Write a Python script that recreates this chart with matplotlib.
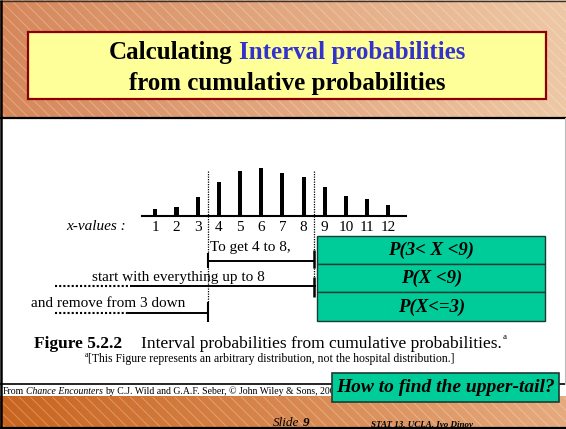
import matplotlib
matplotlib.use("Agg")
import matplotlib.pyplot as plt
from matplotlib.patches import Rectangle
from matplotlib import transforms
import matplotlib.colors as mcolors
import numpy as np

# ---------------- data ----------------
x_values = [1, 2, 3, 4, 5, 6, 7, 8, 9, 10, 11, 12]
probabilities = [0.020, 0.027, 0.059, 0.106, 0.141, 0.150, 0.135, 0.122, 0.090, 0.062, 0.053, 0.034]
tick_labels = [str(v) for v in x_values]
lower_cut = 3.5   # boundary between 3 and 4
upper_cut = 8.5   # boundary between 8 and 9

title_black = "Calculating"
title_blue = "Interval probabilities"
title_line1 = "Calculating Interval probabilities"
title_line2 = "from cumulative probabilities"
axis_label = "x-values :"
bracket_texts = ["To get 4 to 8,", "start with everything up to 8", "and remove from 3 down"]
box_labels = ["P(3< X <9)", "P(X <9)", "P(X<=3)"]
caption_bold = "Figure 5.2.2"
caption_text = "Interval probabilities from cumulative probabilities."
footnote_text = "[This Figure represents an arbitrary distribution, not the hospital distribution.]"
footer_parts = ["From", "Chance Encounters", "by C.J. Wild and G.A.F. Seber, \u00a9 John Wiley & Sons, 2000."]
question = "How to find the upper-tail?"
slide_label = "Slide"
slide_num = "9"
course_label = "STAT 13, UCLA, Ivo Dinov"

# ---------------- setup ----------------
W, H, DPI = 566, 429, 100
SERIF = "Liberation Serif"
plt.rcParams["hatch.linewidth"] = 0.7

fig = plt.figure(figsize=(W / DPI, H / DPI), dpi=DPI, facecolor="white")
ax = fig.add_axes([0, 0, 1, 1], zorder=0)
ax.set_xlim(0, W)
ax.set_ylim(H, 0)
ax.axis("off")
ax.set_autoscale_on(False)
r = fig.canvas.get_renderer()


def grad(c0, c1, n=256):
    a = np.array(mcolors.to_rgb(c0))
    b = np.array(mcolors.to_rgb(c1))
    t = np.linspace(0, 1, n)[None, :, None]
    img = a + (b - a) * t
    return np.repeat(img, 4, axis=0)


# header band
ax.imshow(grad("#D6875A", "#EEC8A5"), extent=(0, W, 117, 0), aspect="auto",
          interpolation="bilinear", zorder=0)
ax.add_patch(Rectangle((0, 0), W, 117, fill=False, hatch="\\\\\\",
                       edgecolor=(1, 1, 1, 0.28), lw=0, zorder=1))
# bottom band
ax.imshow(grad("#C9641E", "#E6AA7E"), extent=(0, W, 427, 396.5), aspect="auto",
          interpolation="bilinear", zorder=0)
ax.add_patch(Rectangle((0, 396.5), W, 30.5, fill=False, hatch="\\\\\\",
                       edgecolor=(1, 1, 1, 0.28), lw=0, zorder=1))
ax.set_xlim(0, W)
ax.set_ylim(H, 0)

# frame lines
ax.plot([0, W], [118, 118], color="black", lw=1.6, zorder=5, solid_capstyle="butt")
ax.plot([0, W], [384.2, 384.2], color="black", lw=1.2, zorder=5, solid_capstyle="butt")
ax.plot([0, W], [428, 428], color="black", lw=1.6, zorder=8, solid_capstyle="butt")
ax.plot([0, W], [0.7, 0.7], color="#333333", lw=1.0, zorder=8, solid_capstyle="butt")
ax.plot([1.2, 1.2], [0, H], color="black", lw=1.8, zorder=8, solid_capstyle="butt")
ax.plot([564.5, 564.5], [118, 384], color="#BBBBBB", lw=0.8, zorder=5)

# title box
ax.add_patch(Rectangle((28.3, 31.7), 517.4, 67.3, facecolor="#FFFF99",
                       edgecolor="#8B0000", lw=1.6, zorder=3))
tfull = ax.text(0, 0, title_line1, fontsize=18, weight="bold", family=SERIF, alpha=0)
wfull = tfull.get_window_extent(r).width
tfull.remove()
x0 = 287 - wfull / 2
ax.text(x0, 59.3, title_black, fontsize=18, weight="bold", family=SERIF,
        color="black", ha="left", va="baseline", zorder=4)
ax.text(x0 + wfull, 59.3, title_blue, fontsize=18, weight="bold", family=SERIF,
        color="#3333CC", ha="right", va="baseline", zorder=4)
ax.text(287, 90, title_line2, fontsize=18, weight="bold", family=SERIF,
        color="black", ha="center", va="baseline", zorder=4)

# ---------------- bar chart ----------------
bx0, bx1, by0, by1 = 142, 405.7, 160, 215.7
ax_bar = fig.add_axes([bx0 / W, 1 - by1 / H, (bx1 - bx0) / W, (by1 - by0) / H], zorder=2)
ax_bar.patch.set_alpha(0)
ax_bar.bar(x_values, probabilities, width=0.19, color="black")
ax_bar.set_xlim(0.372, 12.82)
ax_bar.set_ylim(0, 0.175)
for s in ["top", "left", "right"]:
    ax_bar.spines[s].set_visible(False)
ax_bar.spines["bottom"].set_linewidth(1.5)
ax_bar.set_yticks([])
ax_bar.set_xticks(x_values, tick_labels)
ax_bar.tick_params(axis="x", length=0, pad=4, labelsize=11)
for lab in ax_bar.get_xticklabels():
    lab.set_family(SERIF)

ax.text(126, 227, axis_label, fontsize=11, style="italic", family=SERIF,
        ha="right", va="center")

tv = transforms.blended_transform_factory(ax_bar.transData, ax.transData)
dot = (0, (1, 1))
# vertical cut lines
ax.plot([lower_cut, lower_cut], [171, 253], transform=tv, color="black", lw=0.9, ls=dot, zorder=2)
ax.plot([lower_cut, lower_cut], [268, 302], transform=tv, color="black", lw=0.9, ls=dot, zorder=2)
ax.plot([upper_cut, upper_cut], [171, 250], transform=tv, color="black", lw=0.9, ls=dot, zorder=2)
ax.plot([upper_cut, upper_cut], [268, 278], transform=tv, color="black", lw=0.9, ls=dot, zorder=2)

# bracket 1
ax.plot([lower_cut, upper_cut], [260.5, 260.5], transform=tv, color="black", lw=1.4, zorder=3,
        solid_capstyle="butt")
ax.plot([lower_cut, lower_cut], [253, 268], transform=tv, color="black", lw=1.5, zorder=3,
        solid_capstyle="butt")
ax.plot([upper_cut, upper_cut], [250, 268], transform=tv, color="black", lw=1.8, zorder=3,
        solid_capstyle="butt")
ax.text(209.5, 247.5, bracket_texts[0], fontsize=11, family=SERIF, ha="left", va="center")

# bracket 2
ax.plot([131, 316], [286, 286], color="black", lw=1.4, zorder=3, solid_capstyle="butt")
ax.plot([55, 131], [286, 286], color="black", lw=1.5, ls=dot, zorder=3)
ax.plot([upper_cut, upper_cut], [277, 297], transform=tv, color="black", lw=1.8, zorder=3,
        solid_capstyle="butt")
ax.text(92, 277.5, bracket_texts[1], fontsize=11, family=SERIF, ha="left", va="center")

# bracket 3
ax.plot([128, 208], [312.7, 312.7], color="black", lw=1.4, zorder=3, solid_capstyle="butt")
ax.plot([55, 128], [312.7, 312.7], color="black", lw=1.5, ls=dot, zorder=3)
ax.plot([lower_cut, lower_cut], [302, 322], transform=tv, color="black", lw=1.5, zorder=3,
        solid_capstyle="butt")
ax.text(31, 303.5, bracket_texts[2], fontsize=11, family=SERIF, ha="left", va="center")

# green probability boxes
gx0, gx1 = 317.3, 545
gys = [235.7, 264, 292.3, 320.7]
for i, lab in enumerate(box_labels):
    ax.add_patch(Rectangle((gx0, gys[i]), gx1 - gx0, gys[i + 1] - gys[i],
                           facecolor="#00CC99", edgecolor="#1E3B33", lw=1.0, zorder=3))
    ax.text((gx0 + gx1) / 2, (gys[i] + gys[i + 1]) / 2 + 0.5, lab, fontsize=13.5,
            weight="bold", style="italic", family=SERIF, ha="center", va="center", zorder=4)

# caption
ax.text(34, 347.5, caption_bold, fontsize=12.5, weight="bold", family=SERIF,
        ha="left", va="baseline")
tc = ax.text(140.7, 347.5, caption_text, fontsize=12.5, family=SERIF,
             ha="left", va="baseline")
cend = tc.get_window_extent(r).x1
ax.text(cend + 1.5, 339, "a", fontsize=6.5, family=SERIF, ha="left", va="baseline")
ax.text(85, 357, "a", fontsize=5.5, family=SERIF, ha="left", va="baseline")
ax.text(88.5, 361.8, footnote_text, fontsize=8.5, family=SERIF, ha="left", va="baseline")

# footer
fx = 2.5
fy = 394.5
sp = 7 * 0.25 * DPI / 72
t = ax.text(fx, fy, footer_parts[0], fontsize=7, family=SERIF, ha="left", va="baseline", zorder=4)
fx = t.get_window_extent(r).x1 + sp
t = ax.text(fx, fy, footer_parts[1], fontsize=7, family=SERIF, style="italic",
            ha="left", va="baseline", zorder=4)
fx = t.get_window_extent(r).x1 + sp
ax.text(fx, fy, footer_parts[2], fontsize=7, family=SERIF, ha="left", va="baseline", zorder=4)

# question box
ax.add_patch(Rectangle((331.7, 372.7), 559 - 331.7, 29, facecolor="#00CC99",
                       edgecolor="#1E3B33", lw=1.2, zorder=6))
ax.text((331.7 + 559) / 2, 388, question, fontsize=14, weight="bold", style="italic",
        family=SERIF, ha="center", va="center", zorder=7)

# slide footer
t = ax.text(273, 426, slide_label, fontsize=9.5, style="italic", family=SERIF,
            ha="left", va="baseline", zorder=4)
sx = t.get_window_extent(r).x1 + 9.5 * 0.25 * DPI / 72
ax.text(sx, 426, slide_num, fontsize=9.5, style="italic", weight="bold", family=SERIF,
        ha="left", va="baseline", zorder=4)
ax.text(371, 426, course_label, fontsize=6.5, style="italic", weight="bold", family=SERIF,
        ha="left", va="baseline", zorder=4)

fig.savefig("out.png", dpi=DPI, facecolor="white")
